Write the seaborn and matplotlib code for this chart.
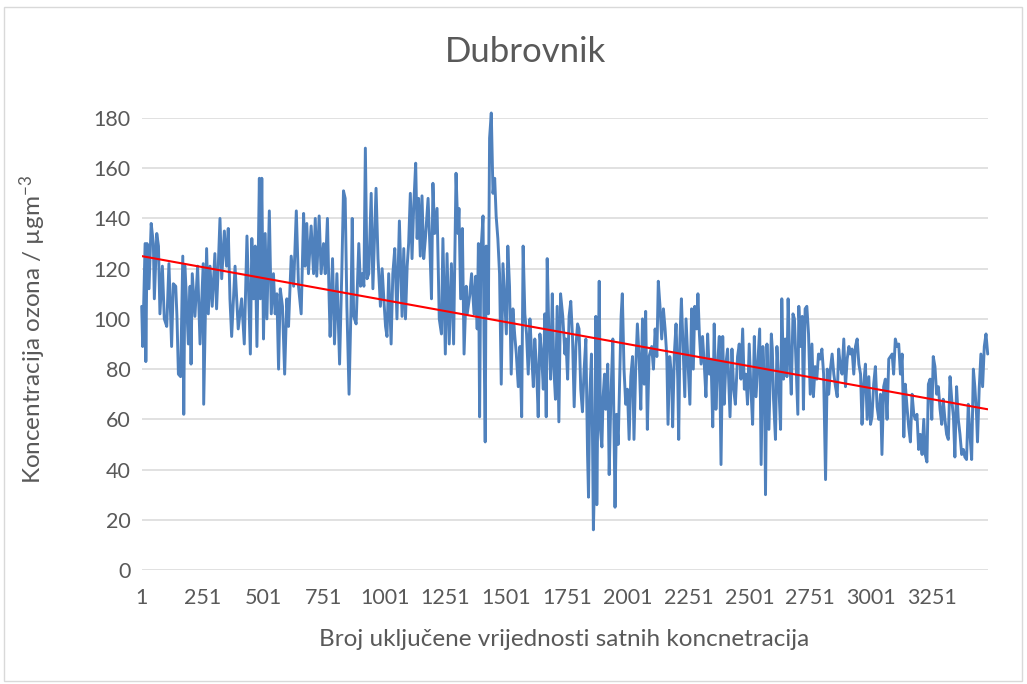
import numpy as np
import pandas as pd
import matplotlib
matplotlib.use("Agg")
import matplotlib.pyplot as plt
from matplotlib.patches import Rectangle
import seaborn as sns

# ---- data (hour index, ozone concentration) ----
hours_a = [1,5,15,18,23,31,40,49,53,63,70,76,86,94,104,113,124,131,141,146,152,161,170,174,179,193,200,204,209,220,231,241,254,256,268,275,282,291,302,309,316,323,330,341,350,357,364,371,385,398,412,423]
vals_a = [105,89,130,83,130,112,138,130,108,134,129,102,121,100,97,122,89,114,113,101,78,77,125,62,121,90,113,82,118,101,121,90,122,66,128,102,121,105,126,104,121,140,116,135,121,136,108,93,121,96,108,90]

hours_b = [434,448,454,461,468,475,485,489,495,502,509,516,526,534,543,550,557,564,571,580,589,598,605,616,626,637,646,657,667,673,680,687,698,708,715,721,731,739,749,756,765,772,776,786,794,804,815,824,831,838,845,854,862]
vals_b = [133,86,132,108,129,89,156,108,156,92,134,100,143,102,118,102,110,80,112,105,78,108,97,125,113,143,113,102,142,121,138,118,137,118,140,117,141,118,130,118,140,108,93,124,90,118,82,118,151,148,105,70,105]

hours_c = [867,873,883,894,901,908,915,921,928,935,945,952,965,973,983,990,997,1004,1010,1017,1027,1034,1042,1051,1061,1072,1079,1086,1093,1099,1106,1113,1120,1128,1134,1140,1147,1154,1161,1168,1179,1186,1193,1199,1206,1216,1225,1234,1240,1250,1257,1266,1275,1284,1294,1302]
vals_c = [140,101,98,130,113,118,113,168,116,118,150,112,152,124,105,120,108,97,93,118,90,118,128,100,139,101,128,100,121,130,150,124,145,162,132,148,125,149,124,132,148,130,108,154,134,144,100,94,132,86,126,90,122,90,158,134]

hours_d = [1306,1313,1320,1327,1336,1340,1350,1358,1368,1375,1381,1386,1391,1396,1405,1409,1414,1418,1427,1432,1439,1446,1453,1459,1466,1473,1480,1487,1494,1501,1507,1514,1521,1528,1535,1542,1550,1557,1564,1570,1577,1584,1591,1598,1605,1612,1618,1625,1632,1639,1646,1653,1659,1665,1669,1676,1683,1690,1696,1703,1710,1717,1724,1733,1742]
vals_d = [144,108,136,86,113,102,109,118,102,117,96,130,61,126,141,94,51,129,102,172,182,150,156,141,132,118,74,122,108,94,129,113,78,104,94,86,73,89,61,129,102,94,78,100,86,73,92,81,61,94,86,72,102,61,124,94,76,110,81,68,105,59,110,101,86]

hours_e = [1746,1753,1759,1766,1773,1780,1787,1794,1800,1807,1814,1821,1828,1835,1839,1844,1851,1855,1859,1865,1869,1873,1879,1883,1888,1894,1899,1905,1910,1918,1924,1931,1939,1944,1948,1954,1961,1968,1973,1978,1985,1992,1999,2006,2013,2020,2026,2033,2040,2047,2054,2061,2068,2074,2081,2088,2099,2106,2113,2120,2126,2133,2140,2147,2154,2161,2166,2173,2181]
vals_e = [92,76,101,107,93,65,89,98,96,72,63,80,92,46,29,69,86,56,16,42,101,26,82,115,56,49,69,78,64,82,38,69,92,56,25,62,50,80,101,110,80,66,72,52,77,85,52,80,98,85,64,100,74,103,56,85,89,80,96,85,115,105,92,104,96,85,58,85,77]

hours_f = [2185,2192,2199,2206,2210,2215,2221,2229,2235,2240,2247,2256,2263,2270,2276,2284,2289,2295,2302,2308,2315,2322,2329,2336,2343,2350,2356,2363,2370,2377,2384,2391,2397,2404,2411,2421,2429,2436,2443,2452,2459,2466,2473,2480,2486,2493,2500,2507,2514,2521,2528,2534]
vals_f = [57,86,98,76,52,92,108,85,69,100,85,66,104,80,105,96,110,94,82,93,82,69,94,78,84,57,98,64,82,93,42,93,66,82,88,61,88,72,66,85,90,76,96,72,78,66,90,72,58,93,69,80]

hours_g = [2543,2549,2556,2563,2567,2573,2581,2591,2595,2600,2608,2614,2622,2629,2634,2641,2648,2655,2660,2666,2673,2680,2686,2693,2700,2704,2711,2718,2723,2730,2737,2744,2751,2758,2764,2771,2778,2785,2792,2799,2806,2814,2821,2827,2834,2841,2848,2855,2862,2868,2875,2882,2889,2896,2903,2910,2916,2923,2930,2937,2944,2951,2958,2964,2971,2978,2985,2992,2999,3005,3012,3019,3026,3033,3040,3046,3053,3060,3067,3074,3081,3088,3094,3101,3108,3115,3122,3129,3136,3142,3149,3156,3163,3170,3177,3183,3190,3197,3204,3211,3218,3224,3231,3237,3244,3251,3257,3264,3271,3278,3285,3292,3298,3305,3312,3319,3326,3333,3340,3346,3353,3360,3367,3374,3381,3387,3394,3401,3408,3415,3422,3428,3435,3439,3446,3453,3460,3467,3474,3481]
vals_g = [96,42,89,74,30,90,56,94,88,68,52,89,73,56,108,76,92,77,108,86,70,102,100,81,62,105,89,101,64,104,105,94,70,90,69,81,76,86,84,88,78,36,80,70,80,86,78,73,69,88,81,78,92,73,84,89,86,88,78,89,92,82,78,58,74,82,60,77,58,61,74,81,65,60,70,46,73,76,60,84,85,86,78,92,89,90,78,86,53,74,65,57,51,70,62,60,62,48,54,46,60,46,43,74,76,60,85,81,70,73,64,58,68,60,54,52,77,68,61,45,73,60,54,46,48,45,44,66,54,44,80,73,62,51,72,86,73,89,94,86]

trend_hours = [1, 3481]
trend_vals = [125, 64]

x_ticks = [1, 251, 501, 751, 1001, 1251, 1501, 1751, 2001, 2251, 2501, 2751, 3001, 3251]
y_ticks = [0, 20, 40, 60, 80, 100, 120, 140, 160, 180]

title = "Dubrovnik"
x_label = "Broj uključene vrijednosti satnih koncnetracija"
y_label = "Koncentracija ozona / µgm$^{-3}$"

# ---- build table ----
hours = hours_a + hours_b + hours_c + hours_d + hours_e + hours_f + hours_g
vals = vals_a + vals_b + vals_c + vals_d + vals_e + vals_f + vals_g
df = pd.DataFrame({"hour": hours, "ozone": vals})
trend = pd.DataFrame({"hour": trend_hours, "ozone": trend_vals})

sns.set_theme(style="white")
plt.rcParams["font.family"] = ["Lato", "DejaVu Sans"]
plt.rcParams["mathtext.fontset"] = "custom"
plt.rcParams["mathtext.rm"] = "Lato"
plt.rcParams["mathtext.it"] = "Lato"
plt.rcParams["mathtext.bf"] = "Lato"

grey = "#595959"
fig = plt.figure(figsize=(10.27, 6.84), dpi=100)
fig.patch.set_facecolor("white")
ax = fig.add_axes([141.7 / 1027, 1 - 570 / 684, 846 / 1027, 452 / 684])

for y in y_ticks:
    ax.axhline(y, color="#D9D9D9", lw=1.1, zorder=0)

sns.lineplot(data=df, x="hour", y="ozone", ax=ax, color="#4F81BD", lw=2.1,
             estimator=None, sort=False, clip_on=False, zorder=2)
sns.lineplot(data=trend, x="hour", y="ozone", ax=ax, color="#FF0000", lw=1.5,
             estimator=None, zorder=3)

ax.set_xlim(1, 3481)
ax.set_ylim(0, 180)
ax.set_xticks(x_ticks)
ax.set_yticks(y_ticks)
ax.set_xticklabels([str(t) for t in x_ticks])
ax.tick_params(axis="both", length=0, labelsize=15.5, labelcolor=grey)
ax.tick_params(axis="y", pad=8)
ax.tick_params(axis="x", pad=13)
for s in ax.spines.values():
    s.set_visible(False)
ax.set_xlabel("")
ax.set_ylabel("")

fig.text(525 / 1027, 1 - 52 / 684, title, ha="center", va="center",
         fontsize=25, color=grey, fontweight="normal")
fig.text(564 / 1027, 1 - 640 / 684, x_label, ha="center", va="center",
         fontsize=17.5, color=grey)
fig.text(33 / 1027, 1 - 330 / 684, y_label, ha="center", va="center",
         rotation=90, fontsize=17.5, color=grey)

fig.add_artist(Rectangle((4 / 1027, 3 / 684), 1018 / 1027, 674 / 684,
                         transform=fig.transFigure, fill=False,
                         edgecolor="#D9D9D9", lw=1))

fig.savefig("out.png", dpi=100)
